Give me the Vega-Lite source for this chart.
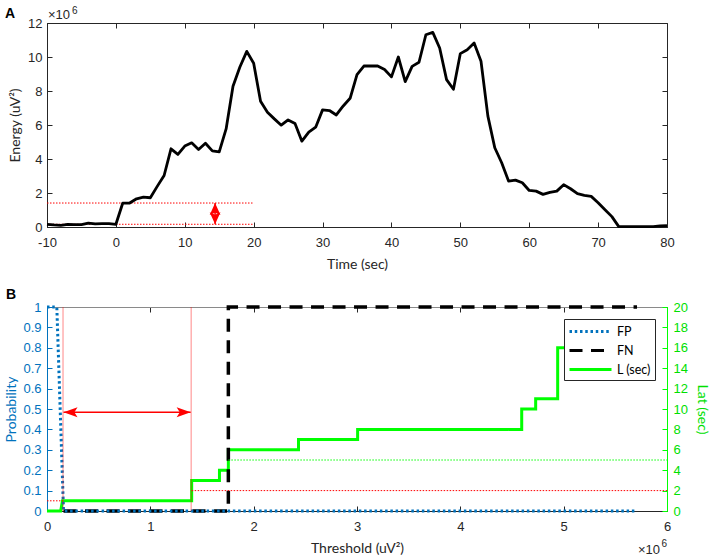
{
  "$schema": "https://vega.github.io/schema/vega-lite/v6.json",
  "background": "white",
  "padding": {"left": 4, "top": 5, "right": 2, "bottom": 2},
  "bounds": "flush",
  "spacing": 80,
  "resolve": {"legend": {"color": "independent", "strokeDash": "independent"}},
  "config": {
    "view": {"stroke": "#262626", "strokeWidth": 1},
    "axis": {
      "labelFont": "Liberation Sans", "labelFontSize": 13, "labelColor": "#262626",
      "titleFont": "Lato", "titleFontSize": 14, "titleFontWeight": "normal", "titleColor": "#262626",
      "domainColor": "#262626", "tickColor": "#262626", "tickSize": -5, "grid": false,
      "labelFlush": false, "labelOverlap": false
    },
    "legend": {
      "orient": "top-right", "offset": 12, "padding": 4, "rowPadding": 4,
      "strokeColor": "#262626", "fillColor": "white",
      "symbolSize": 196, "symbolStrokeWidth": 3, "labelFont": "Lato", "labelFontSize": 12.5,
      "labelColor": "#000000", "labelOffset": 32
    },
    "text": {"font": "Liberation Sans", "color": "#262626"}
  },
  "vconcat": [
    {
      "width": 620,
      "height": 204,
      "resolve": {"axis": {"x": "independent", "y": "independent"}},
      "layer": [
        {
          "data": {"values": [{"t0": -10, "t1": 20, "e": 1410000}, {"t0": -10, "t1": 20, "e": 160000}]},
          "mark": {"type": "rule", "stroke": "#FF0000", "strokeWidth": 1, "strokeDash": [1.5, 1.5]},
          "encoding": {
            "x": {"field": "t0", "type": "quantitative", "scale": {"domain": [-10, 80], "nice": false, "zero": false},
              "axis": {"orient": "top", "labels": false, "title": null, "domain": false, "values": [-10, 0, 10, 20, 30, 40, 50, 60, 70, 80]}},
            "x2": {"field": "t1"},
            "y": {"field": "e", "type": "quantitative", "scale": {"domain": [0, 12000000], "nice": false},
              "axis": {"orient": "right", "labels": false, "title": null, "domain": false, "values": [0, 2000000, 4000000, 6000000, 8000000, 10000000, 12000000]}}
          }
        },
        {
          "data": {"values": [{"t": 14.4, "lo": 160000, "hi": 1410000}]},
          "mark": {"type": "rule", "stroke": "#FF0000", "strokeWidth": 1.5},
          "encoding": {
            "x": {"field": "t", "type": "quantitative", "axis": null},
            "y": {"field": "lo", "type": "quantitative", "axis": null},
            "y2": {"field": "hi"}
          }
        },
        {
          "data": {"values": [{"t": 14.4, "lo": 160000, "hi": 1410000}]},
          "mark": {"type": "point", "shape": "M0,-1L0.9,1L0,0.6L-0.9,1Z", "size": 144, "filled": true, "color": "#FF0000", "opacity": 1, "yOffset": 6},
          "encoding": {
            "x": {"field": "t", "type": "quantitative", "axis": null},
            "y": {"field": "hi", "type": "quantitative", "axis": null}
          }
        },
        {
          "data": {"values": [{"t": 14.4, "lo": 160000, "hi": 1410000}]},
          "mark": {"type": "point", "shape": "M0,1L0.9,-1L0,-0.6L-0.9,-1Z", "size": 144, "filled": true, "color": "#FF0000", "opacity": 1, "yOffset": -6},
          "encoding": {
            "x": {"field": "t", "type": "quantitative", "axis": null},
            "y": {"field": "lo", "type": "quantitative", "axis": null}
          }
        },
        {
          "data": {"values": [
            {"t": -10, "e": 160000}, {"t": -9, "e": 120000}, {"t": -8, "e": 100000}, {"t": -7, "e": 160000},
            {"t": -6, "e": 140000}, {"t": -5, "e": 140000}, {"t": -4, "e": 230000}, {"t": -3, "e": 180000},
            {"t": -2, "e": 200000}, {"t": -1, "e": 200000}, {"t": 0, "e": 160000}, {"t": 1, "e": 1410000},
            {"t": 2, "e": 1410000}, {"t": 3, "e": 1660000}, {"t": 4, "e": 1760000}, {"t": 5, "e": 1720000},
            {"t": 6, "e": 2390000}, {"t": 7, "e": 3030000}, {"t": 8, "e": 4600000}, {"t": 9, "e": 4270000},
            {"t": 10, "e": 4760000}, {"t": 11, "e": 4950000}, {"t": 12, "e": 4560000}, {"t": 13, "e": 4930000},
            {"t": 14, "e": 4480000}, {"t": 15, "e": 4420000}, {"t": 16, "e": 5770000}, {"t": 17, "e": 8280000},
            {"t": 18, "e": 9410000}, {"t": 19, "e": 10330000}, {"t": 20, "e": 9630000}, {"t": 21, "e": 7400000},
            {"t": 22, "e": 6750000}, {"t": 23, "e": 6360000}, {"t": 24, "e": 5990000}, {"t": 25, "e": 6300000},
            {"t": 26, "e": 6090000}, {"t": 27, "e": 5050000}, {"t": 28, "e": 5580000}, {"t": 29, "e": 5870000},
            {"t": 30, "e": 6890000}, {"t": 31, "e": 6850000}, {"t": 32, "e": 6590000}, {"t": 33, "e": 7120000},
            {"t": 34, "e": 7570000}, {"t": 35, "e": 8960000}, {"t": 36, "e": 9470000}, {"t": 37, "e": 9470000},
            {"t": 38, "e": 9470000}, {"t": 39, "e": 9260000}, {"t": 40, "e": 8830000}, {"t": 41, "e": 10000000},
            {"t": 42, "e": 8550000}, {"t": 43, "e": 9450000}, {"t": 44, "e": 9690000}, {"t": 45, "e": 11310000},
            {"t": 46, "e": 11450000}, {"t": 47, "e": 10530000}, {"t": 48, "e": 8670000}, {"t": 49, "e": 8100000},
            {"t": 50, "e": 10200000}, {"t": 51, "e": 10430000}, {"t": 52, "e": 10820000}, {"t": 53, "e": 9750000},
            {"t": 54, "e": 6520000}, {"t": 55, "e": 4660000}, {"t": 56, "e": 3780000}, {"t": 57, "e": 2700000},
            {"t": 58, "e": 2760000}, {"t": 59, "e": 2600000}, {"t": 60, "e": 2150000}, {"t": 61, "e": 2110000},
            {"t": 62, "e": 1920000}, {"t": 63, "e": 2040000}, {"t": 64, "e": 2110000}, {"t": 65, "e": 2490000},
            {"t": 66, "e": 2250000}, {"t": 67, "e": 1960000}, {"t": 68, "e": 1860000}, {"t": 69, "e": 1800000},
            {"t": 70, "e": 1430000}, {"t": 71, "e": 1020000}, {"t": 72, "e": 610000}, {"t": 73, "e": 20000},
            {"t": 74, "e": 20000}, {"t": 75, "e": 20000}, {"t": 76, "e": 20000}, {"t": 77, "e": 20000},
            {"t": 78, "e": 20000}, {"t": 79, "e": 60000}, {"t": 80, "e": 80000}
          ]},
          "mark": {"type": "line", "stroke": "#000000", "strokeWidth": 2.8, "strokeJoin": "round"},
          "encoding": {
            "x": {"field": "t", "type": "quantitative",
              "axis": {"orient": "bottom", "title": "Time (sec)", "values": [-10, 0, 10, 20, 30, 40, 50, 60, 70, 80],
                "labelExpr": "'' + datum.value", "labelPadding": 14, "titlePadding": 8}},
            "y": {"field": "e", "type": "quantitative",
              "axis": {"orient": "left", "title": "Energy (uV²)", "values": [0, 2000000, 4000000, 6000000, 8000000, 10000000, 12000000],
                "labelExpr": "'' + (datum.value / 1000000)", "labelPadding": 10, "titlePadding": 5}}
          }
        },
        {
          "data": {"values": [{"label": "×10"}]},
          "mark": {"type": "text", "align": "left", "baseline": "alphabetic", "dx": 1, "dy": -4, "fontSize": 13},
          "encoding": {
            "x": {"datum": -10, "type": "quantitative", "axis": null},
            "y": {"datum": 12000000, "type": "quantitative", "axis": null},
            "text": {"field": "label"}
          }
        },
        {
          "data": {"values": [{"label": "6"}]},
          "mark": {"type": "text", "align": "left", "baseline": "alphabetic", "dx": 25, "dy": -9, "fontSize": 10},
          "encoding": {
            "x": {"datum": -10, "type": "quantitative", "axis": null},
            "y": {"datum": 12000000, "type": "quantitative", "axis": null},
            "text": {"field": "label"}
          }
        },
        {
          "data": {"values": [{"label": "A"}]},
          "mark": {"type": "text", "align": "left", "baseline": "alphabetic", "dx": -42, "dy": -5, "fontSize": 14, "fontWeight": "bold", "color": "#000000"},
          "encoding": {
            "x": {"datum": -10, "type": "quantitative", "axis": null},
            "y": {"datum": 12000000, "type": "quantitative", "axis": null},
            "text": {"field": "label"}
          }
        }
      ]
    },
    {
      "width": 620,
      "height": 204,
      "resolve": {"scale": {"y": "independent"}, "axis": {"x": "independent", "y": "independent"}},
      "layer": [
        {
          "data": {"values": [
            {"series": "L (sec)", "i": 1, "x": 0, "lat": 0},
            {"series": "L (sec)", "i": 2, "x": 132000, "lat": 0},
            {"series": "L (sec)", "i": 3, "x": 150000, "lat": 1},
            {"series": "L (sec)", "i": 4, "x": 1400000, "lat": 1},
            {"series": "L (sec)", "i": 5, "x": 1400000, "lat": 3},
            {"series": "L (sec)", "i": 6, "x": 1669000, "lat": 3},
            {"series": "L (sec)", "i": 7, "x": 1669000, "lat": 4},
            {"series": "L (sec)", "i": 8, "x": 1755000, "lat": 4},
            {"series": "L (sec)", "i": 9, "x": 1755000, "lat": 6},
            {"series": "L (sec)", "i": 10, "x": 2434000, "lat": 6},
            {"series": "L (sec)", "i": 11, "x": 2434000, "lat": 7},
            {"series": "L (sec)", "i": 12, "x": 3006000, "lat": 7},
            {"series": "L (sec)", "i": 13, "x": 3006000, "lat": 8},
            {"series": "L (sec)", "i": 14, "x": 4594000, "lat": 8},
            {"series": "L (sec)", "i": 15, "x": 4594000, "lat": 10},
            {"series": "L (sec)", "i": 16, "x": 4729000, "lat": 10},
            {"series": "L (sec)", "i": 17, "x": 4729000, "lat": 11},
            {"series": "L (sec)", "i": 18, "x": 4942000, "lat": 11},
            {"series": "L (sec)", "i": 19, "x": 4942000, "lat": 16},
            {"series": "L (sec)", "i": 20, "x": 5300000, "lat": 16}
          ]},
          "mark": {"type": "line", "strokeWidth": 3},
          "encoding": {
            "x": {"field": "x", "type": "quantitative", "scale": {"domain": [0, 6000000], "nice": false, "zero": false}, "axis": null},
            "y": {"field": "lat", "type": "quantitative", "scale": {"domain": [0, 20], "nice": false},
              "axis": {"orient": "right", "title": "Lat (sec)", "values": [0, 2, 4, 6, 8, 10, 12, 14, 16, 18, 20],
                "labelColor": "#00E000", "titleColor": "#00E000", "domainColor": "#00FF00", "tickColor": "#00FF00",
                "labelPadding": 11, "titlePadding": 7}},
            "color": {"field": "series", "type": "nominal",
              "scale": {"domain": ["FP", "FN", "L (sec)"], "range": ["#0072BD", "#000000", "#00FF00"]},
              "legend": {"title": null, "zindex": 1, "symbolType": "M-1,0L5,0"}},
            "strokeDash": {"field": "series", "type": "nominal",
              "scale": {"domain": ["FP", "FN", "L (sec)"], "range": [[2.5, 2.75], [13, 8.5], [1, 0]]},
              "legend": {"title": null, "zindex": 1, "symbolType": "M-1,0L5,0"}},
            "order": {"field": "i", "type": "quantitative"}
          }
        },
        {
          "data": {"values": [
            {"series": "FN", "i": 1, "x": 160000, "p": 0},
            {"series": "FN", "i": 2, "x": 1755000, "p": 0},
            {"series": "FN", "i": 3, "x": 1755000, "p": 1},
            {"series": "FN", "i": 4, "x": 5710000, "p": 1}
          ]},
          "mark": {"type": "line", "strokeWidth": 3.5, "strokeCap": "butt"},
          "encoding": {
            "x": {"field": "x", "type": "quantitative", "scale": {"domain": [0, 6000000], "nice": false, "zero": false},
              "axis": {"orient": "bottom", "title": "Threshold (uV²)", "values": [0, 1000000, 2000000, 3000000, 4000000, 5000000, 6000000],
                "labelExpr": "'' + (datum.value / 1000000)", "labelPadding": 14, "titlePadding": 8}},
            "y": {"field": "p", "type": "quantitative", "scale": {"domain": [0, 1], "nice": false},
              "axis": {"orient": "left", "title": "Probability", "values": [0, 0.1, 0.2, 0.3, 0.4, 0.5, 0.6, 0.7, 0.8, 0.9, 1],
                "format": "~g", "labelColor": "#0072BD", "titleColor": "#0072BD", "domainColor": "#0072BD", "tickColor": "#0072BD",
                "labelPadding": 11, "titlePadding": 4}},
            "color": {"field": "series", "type": "nominal",
              "scale": {"domain": ["FP", "FN", "L (sec)"], "range": ["#0072BD", "#000000", "#00FF00"]},
              "legend": {"title": null, "zindex": 1, "symbolType": "M-1,0L5,0"}},
            "strokeDash": {"field": "series", "type": "nominal",
              "scale": {"domain": ["FP", "FN", "L (sec)"], "range": [[2.5, 2.75], [13, 8.5], [1, 0]]},
              "legend": {"title": null, "zindex": 1, "symbolType": "M-1,0L5,0"}},
            "order": {"field": "i", "type": "quantitative"}
          }
        },
        {
          "data": {"values": [
            {"series": "FP", "i": 1, "x": 0, "p": 1},
            {"series": "FP", "i": 2, "x": 95000, "p": 1},
            {"series": "FP", "i": 3, "x": 160000, "p": 0},
            {"series": "FP", "i": 4, "x": 5710000, "p": 0}
          ]},
          "mark": {"type": "line", "strokeWidth": 3, "strokeCap": "butt"},
          "encoding": {
            "x": {"field": "x", "type": "quantitative", "scale": {"domain": [0, 6000000], "nice": false, "zero": false},
              "axis": {"orient": "top", "labels": false, "title": null, "domain": true, "domainColor": "#8a8a8a", "values": [0, 1000000, 2000000, 3000000, 4000000, 5000000, 6000000]}},
            "y": {"field": "p", "type": "quantitative", "scale": {"domain": [0, 1], "nice": false}, "axis": null},
            "color": {"field": "series", "type": "nominal",
              "scale": {"domain": ["FP", "FN", "L (sec)"], "range": ["#0072BD", "#000000", "#00FF00"]},
              "legend": {"title": null, "zindex": 1, "symbolType": "M-1,0L5,0"}},
            "strokeDash": {"field": "series", "type": "nominal",
              "scale": {"domain": ["FP", "FN", "L (sec)"], "range": [[2.5, 2.75], [13, 8.5], [1, 0]]},
              "legend": {"title": null, "zindex": 1, "symbolType": "M-1,0L5,0"}},
            "order": {"field": "i", "type": "quantitative"}
          }
        },
        {
          "data": {"values": [{"x": 155000}, {"x": 1395000}]},
          "mark": {"type": "rule", "stroke": "#FF0000", "strokeWidth": 0.8, "opacity": 0.6},
          "encoding": {
            "x": {"field": "x", "type": "quantitative", "scale": {"domain": [0, 6000000], "nice": false, "zero": false}, "axis": null},
            "y": {"datum": 0, "type": "quantitative", "scale": {"domain": [0, 1], "nice": false}, "axis": null},
            "y2": {"datum": 1}
          }
        },
        {
          "data": {"values": [{"x0": 0, "x1": 155000, "p": 0.05}, {"x0": 1400000, "x1": 6000000, "p": 0.1}]},
          "mark": {"type": "rule", "stroke": "#FF0000", "strokeWidth": 1, "strokeDash": [1.5, 1.5]},
          "encoding": {
            "x": {"field": "x0", "type": "quantitative", "scale": {"domain": [0, 6000000], "nice": false, "zero": false}, "axis": null},
            "x2": {"field": "x1"},
            "y": {"field": "p", "type": "quantitative", "scale": {"domain": [0, 1], "nice": false}, "axis": null}
          }
        },
        {
          "data": {"values": [{"x0": 1755000, "x1": 6000000, "p": 0.25}]},
          "mark": {"type": "rule", "stroke": "#00FF00", "strokeWidth": 1, "strokeDash": [1.5, 1.5]},
          "encoding": {
            "x": {"field": "x0", "type": "quantitative", "scale": {"domain": [0, 6000000], "nice": false, "zero": false}, "axis": null},
            "x2": {"field": "x1"},
            "y": {"field": "p", "type": "quantitative", "scale": {"domain": [0, 1], "nice": false}, "axis": null}
          }
        },
        {
          "data": {"values": [{"x0": 160000, "x1": 1390000, "p": 0.484}]},
          "mark": {"type": "rule", "stroke": "#FF0000", "strokeWidth": 1.5},
          "encoding": {
            "x": {"field": "x0", "type": "quantitative", "scale": {"domain": [0, 6000000], "nice": false, "zero": false}, "axis": null},
            "x2": {"field": "x1"},
            "y": {"field": "p", "type": "quantitative", "scale": {"domain": [0, 1], "nice": false}, "axis": null}
          }
        },
        {
          "data": {"values": [{"x0": 160000, "x1": 1390000, "p": 0.484}]},
          "mark": {"type": "point", "shape": "M-1,0L1,-0.7L0.55,0L1,0.7Z", "size": 196, "filled": true, "color": "#FF0000", "opacity": 1, "xOffset": 7},
          "encoding": {
            "x": {"field": "x0", "type": "quantitative", "scale": {"domain": [0, 6000000], "nice": false, "zero": false}, "axis": null},
            "y": {"field": "p", "type": "quantitative", "scale": {"domain": [0, 1], "nice": false}, "axis": null}
          }
        },
        {
          "data": {"values": [{"x0": 160000, "x1": 1390000, "p": 0.484}]},
          "mark": {"type": "point", "shape": "M1,0L-1,-0.7L-0.55,0L-1,0.7Z", "size": 196, "filled": true, "color": "#FF0000", "opacity": 1, "xOffset": -7},
          "encoding": {
            "x": {"field": "x1", "type": "quantitative", "scale": {"domain": [0, 6000000], "nice": false, "zero": false}, "axis": null},
            "y": {"field": "p", "type": "quantitative", "scale": {"domain": [0, 1], "nice": false}, "axis": null}
          }
        },
        {
          "data": {"values": [{"label": "B"}]},
          "mark": {"type": "text", "align": "left", "baseline": "alphabetic", "dx": -41, "dy": -8, "fontSize": 14, "fontWeight": "bold", "color": "#000000"},
          "encoding": {
            "x": {"datum": 0, "type": "quantitative", "scale": {"domain": [0, 6000000], "nice": false, "zero": false}, "axis": null},
            "y": {"datum": 1, "type": "quantitative", "scale": {"domain": [0, 1], "nice": false}, "axis": null},
            "text": {"field": "label"}
          }
        },
        {
          "data": {"values": [{"label": "×10"}]},
          "mark": {"type": "text", "align": "right", "baseline": "alphabetic", "dx": -7, "dy": 43, "fontSize": 13},
          "encoding": {
            "x": {"datum": 6000000, "type": "quantitative", "scale": {"domain": [0, 6000000], "nice": false, "zero": false}, "axis": null},
            "y": {"datum": 0, "type": "quantitative", "scale": {"domain": [0, 1], "nice": false}, "axis": null},
            "text": {"field": "label"}
          }
        },
        {
          "data": {"values": [{"label": "6"}]},
          "mark": {"type": "text", "align": "right", "baseline": "alphabetic", "dx": 0, "dy": 36, "fontSize": 10},
          "encoding": {
            "x": {"datum": 6000000, "type": "quantitative", "scale": {"domain": [0, 6000000], "nice": false, "zero": false}, "axis": null},
            "y": {"datum": 0, "type": "quantitative", "scale": {"domain": [0, 1], "nice": false}, "axis": null},
            "text": {"field": "label"}
          }
        }
      ]
    }
  ]
}
